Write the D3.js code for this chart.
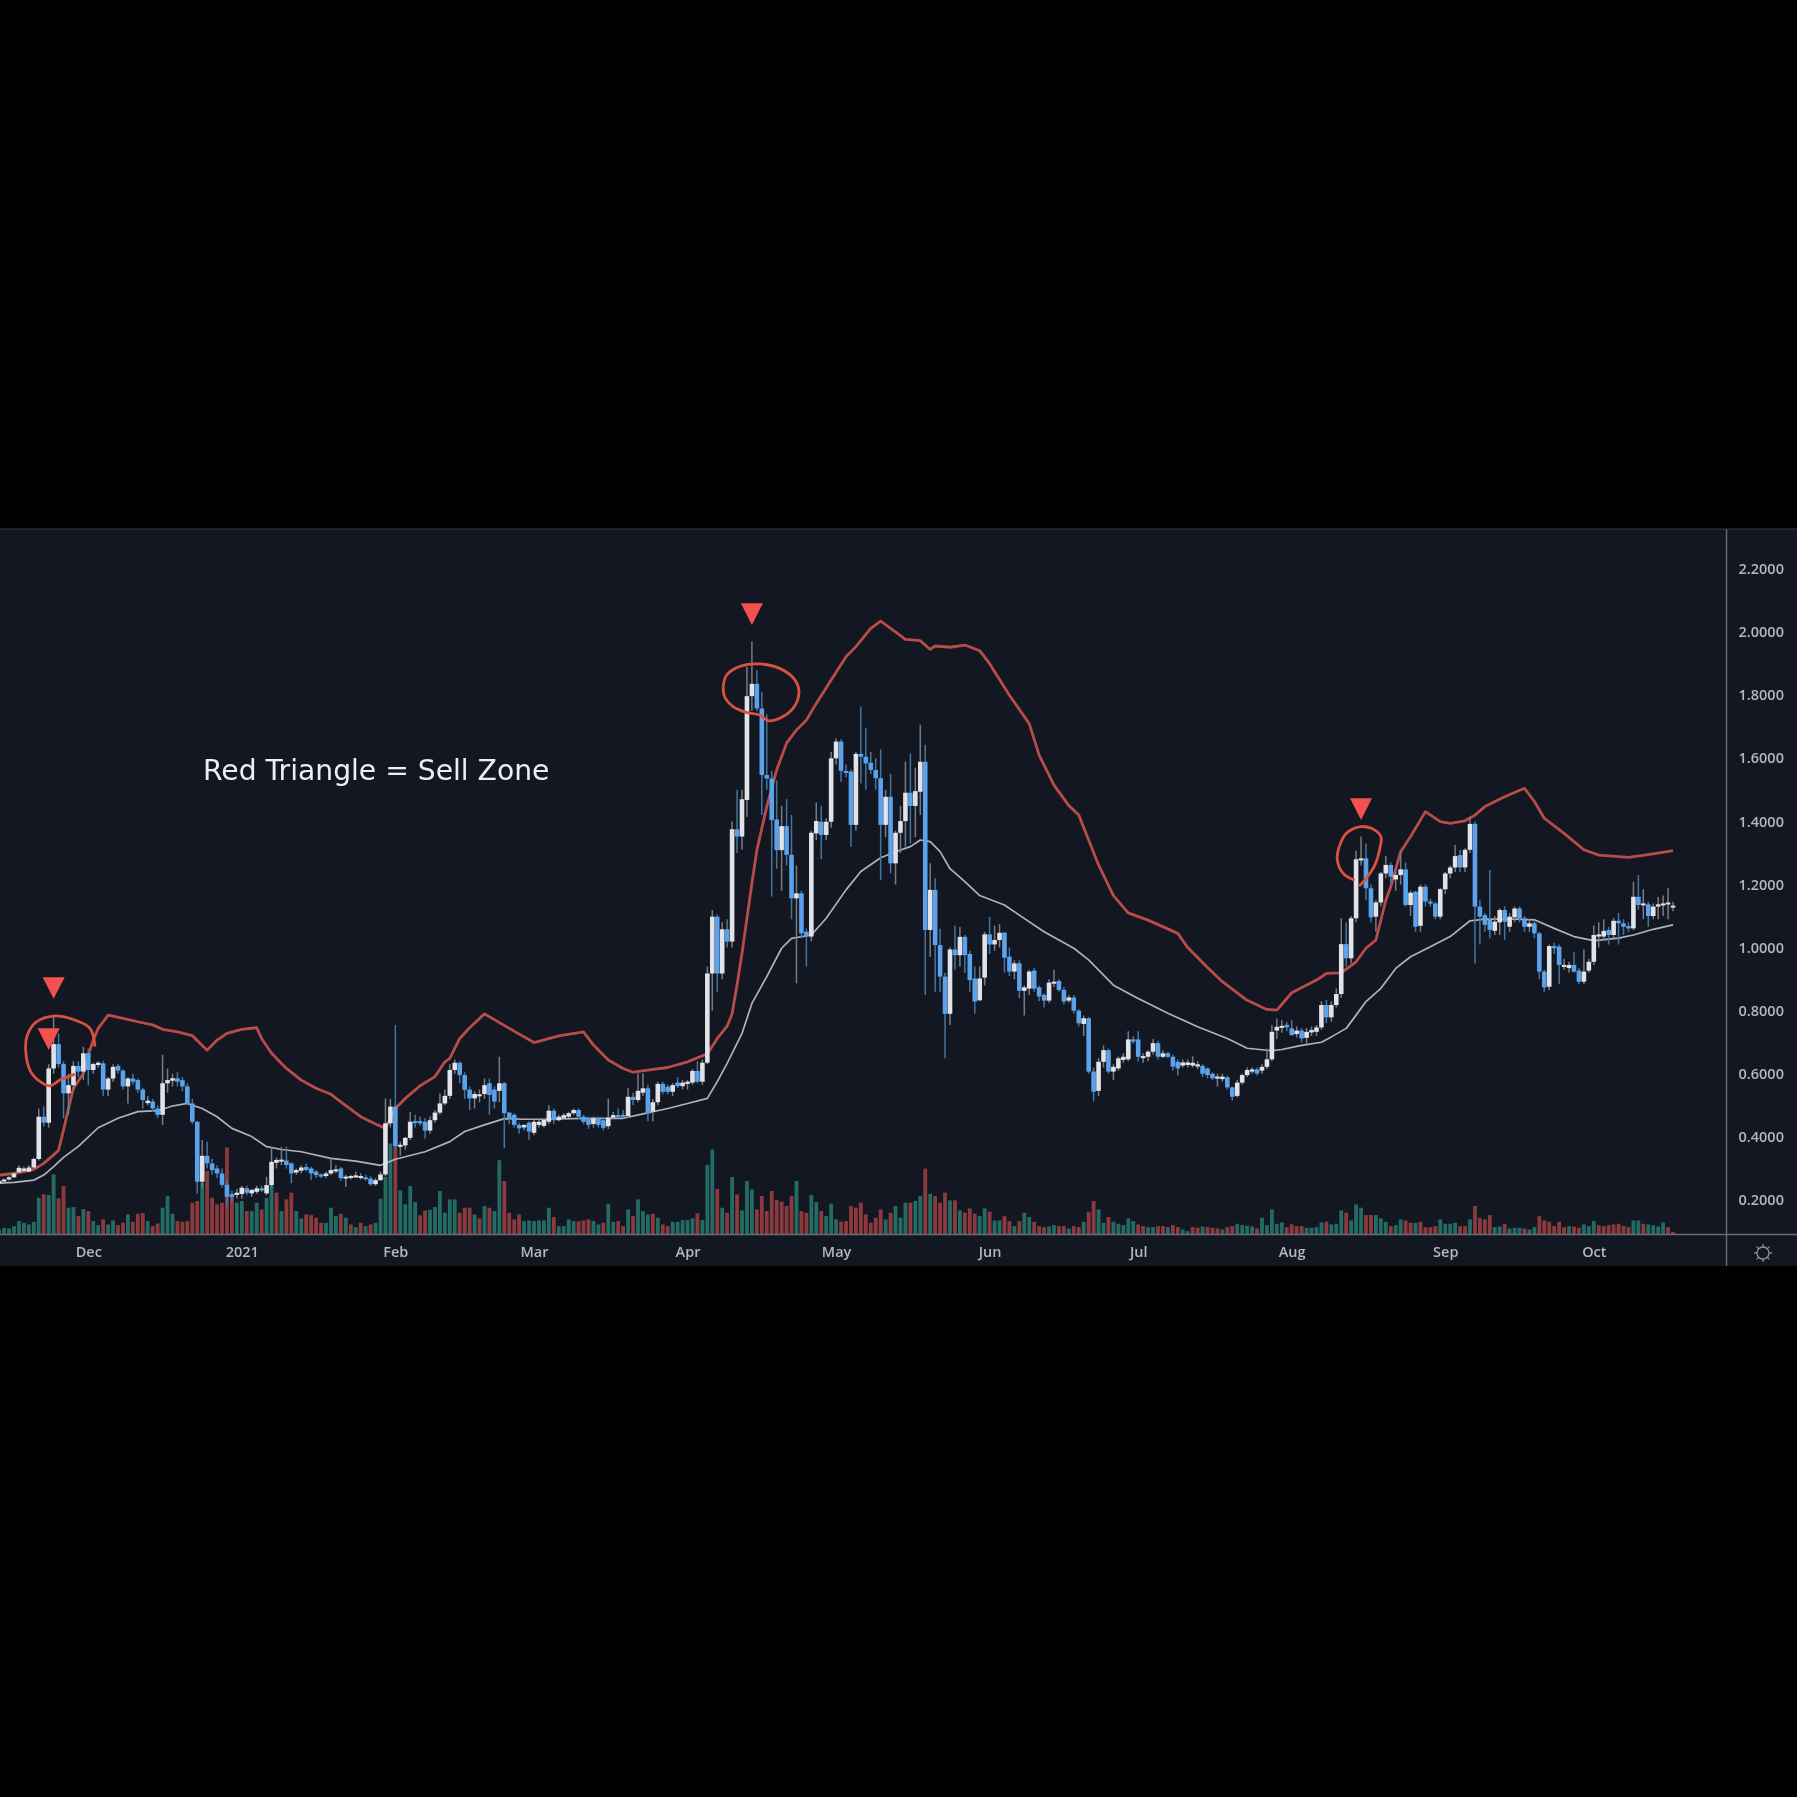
<!DOCTYPE html>
<html>
<head>
<meta charset="utf-8">
<script src="https://cdn.jsdelivr.net/npm/d3@7"></script>
<style>
    html, body { margin: 0; padding: 0; background: #000; }
    svg { display: block; filter: blur(0.5px); }
</style>
</head>
<body>
<svg id="chart" width="1797" height="1797"></svg>
<script>
// one row per day: open, high, low, close, volume (negative = red bar)
var nov20 = [
    [.253,.265,.25,.261,15],[.259,.268,.255,.265,20],[.265,.275,.262,.272,18],[.272,.288,.27,.284,25],
    [.288,.31,.285,.302,40],[.292,.305,.288,.30,35],[.29,.31,.288,.303,30],[.303,.335,.30,.33,38],
    [.33,.49,.325,.464,110],[.464,.496,.432,.445,-120],[.445,.63,.43,.617,118],[.617,.781,.60,.694,180],
    [.694,.728,.62,.631,-108],[.631,.64,.459,.538,-145],[.538,.60,.47,.564,80],[.564,.64,.55,.625,82],
    [.625,.64,.59,.607,-55],[.607,.685,.58,.665,76]
];
var dec20 = [
    [.665,.68,.564,.612,-70],[.612,.635,.60,.631,40],[.628,.64,.62,.635,28],[.633,.64,.53,.55,-45],
    [.55,.59,.53,.585,30],[.585,.63,.575,.622,42],[.625,.632,.60,.61,-28],[.61,.615,.55,.56,-35],
    [.56,.59,.506,.585,60],[.585,.60,.565,.575,-38],[.58,.585,.54,.55,-62],[.55,.555,.49,.517,-64],
    [.507,.53,.50,.515,40],[.512,.52,.48,.49,-25],[.49,.50,.46,.47,-33],[.47,.66,.438,.57,80],
    [.57,.617,.54,.58,115],[.578,.60,.56,.586,62],[.586,.605,.56,.575,-40],[.58,.59,.545,.56,-38],
    [.56,.57,.50,.506,-40],[.506,.52,.44,.448,-95],[.448,.45,.22,.258,-100],[.258,.39,.24,.34,155],
    [.34,.385,.30,.316,-190],[.316,.33,.28,.295,-110],[.30,.31,.27,.284,-90],[.284,.30,.24,.248,-95],
    [.248,.26,.179,.21,-260],[.219,.23,.19,.21,-120],[.216,.235,.205,.223,95]
];
var jan21 = [
    [.219,.245,.205,.239,100],[.237,.245,.215,.223,-70],[.221,.235,.21,.232,70],[.226,.245,.22,.237,95],
    [.237,.245,.225,.23,-75],[.221,.274,.215,.247,110],[.247,.369,.24,.321,145],[.318,.335,.30,.327,-125],
    [.325,.369,.31,.328,70],[.325,.369,.30,.311,-105],[.316,.32,.253,.284,-125],[.287,.30,.28,.295,70],
    [.293,.31,.285,.303,48],[.305,.315,.29,.295,-60],[.30,.305,.263,.284,-58],[.29,.295,.27,.279,-50],
    [.281,.285,.27,.274,-35],[.276,.29,.27,.284,35],[.284,.332,.28,.295,80],[.293,.31,.285,.297,55],
    [.30,.305,.26,.269,-62],[.269,.28,.242,.274,50],[.273,.28,.265,.276,-30],[.274,.29,.27,.278,22],
    [.272,.285,.265,.276,-35],[.272,.28,.262,.268,25],[.268,.275,.245,.25,-30],[.25,.27,.245,.263,35],
    [.263,.29,.26,.281,107],[.281,.522,.275,.443,172],[.443,.52,.43,.496,272]
];
var feb21 = [
    [.496,.755,.36,.371,-267],[.37,.385,.34,.375,132],[.373,.40,.36,.397,90],[.397,.48,.39,.448,145],
    [.45,.47,.43,.445,97],[.45,.465,.435,.443,-57],[.448,.46,.395,.42,-72],[.42,.465,.41,.453,74],
    [.453,.485,.445,.477,82],[.477,.538,.47,.506,130],[.506,.55,.50,.53,65],[.53,.63,.52,.612,105],
    [.612,.645,.60,.635,105],[.635,.64,.57,.596,-65],[.596,.605,.52,.549,-80],[.55,.56,.485,.522,-80],
    [.522,.545,.49,.536,60],[.53,.55,.51,.535,-48],[.536,.585,.52,.564,85],[.57,.585,.47,.533,-80],
    [.55,.56,.49,.512,70],[.546,.654,.51,.57,222],[.57,.575,.364,.475,-160],[.477,.48,.44,.459,-65],
    [.47,.475,.43,.438,-45],[.438,.445,.41,.427,-60],[.43,.44,.42,.438,40],[.445,.45,.39,.417,42]
];
var mar21 = [
    [.413,.455,.405,.448,40],[.438,.455,.43,.448,42],[.435,.46,.43,.454,42],[.448,.50,.44,.483,80],
    [.483,.49,.44,.453,-52],[.453,.47,.45,.464,25],[.459,.475,.455,.469,25],[.464,.48,.46,.475,45],
    [.475,.49,.47,.485,40],[.485,.49,.455,.464,-40],[.464,.47,.44,.448,-42],[.459,.465,.425,.438,-45],
    [.441,.465,.43,.459,40],[.459,.465,.43,.438,30],[.453,.46,.42,.429,-35],[.434,.522,.425,.461,92],
    [.461,.48,.455,.469,38],[.469,.49,.46,.464,-40],[.47,.485,.46,.466,-25],[.466,.554,.46,.527,75],
    [.527,.54,.50,.517,-55],[.517,.601,.51,.546,105],[.54,.601,.53,.554,70],[.554,.565,.45,.475,60],
    [.48,.52,.45,.51,-62],[.51,.575,.50,.568,50],[.568,.575,.535,.543,-30],[.559,.565,.535,.543,-25],
    [.543,.57,.53,.564,38],[.572,.59,.555,.561,38],[.561,.58,.55,.572,43]
];
var apr21 = [
    [.568,.58,.55,.575,43],[.572,.615,.565,.609,48],[.609,.64,.57,.575,-63],[.575,.645,.565,.635,43],
    [.635,.94,.63,.918,208],[.918,1.119,.80,1.098,254],[1.098,1.105,.86,.918,-136],[.918,1.08,.90,1.058,80],
    [1.058,1.09,1.0,1.019,-65],[1.019,1.40,1.0,1.375,172],[1.375,1.50,1.30,1.352,-120],[1.352,1.50,1.31,1.47,72],
    [1.468,1.89,1.415,1.797,160],[1.797,1.97,1.75,1.836,135],[1.836,1.88,1.75,1.758,-75],[1.758,1.81,1.42,1.547,-115],
    [1.547,1.74,1.50,1.536,-70],[1.536,1.56,1.162,1.404,-130],[1.406,1.53,1.25,1.309,-103],[1.309,1.45,1.18,1.385,-98],
    [1.385,1.47,1.26,1.294,-85],[1.294,1.42,1.09,1.156,-115],[1.156,1.26,.887,1.172,160],[1.172,1.18,1.03,1.045,-70],
    [1.05,1.06,.94,1.035,-65],[1.035,1.37,1.02,1.364,118],[1.362,1.46,1.34,1.401,97],[1.399,1.45,1.28,1.357,-70],
    [1.357,1.41,1.34,1.399,55],[1.399,1.62,1.38,1.60,92]
];
var may21 = [
    [1.60,1.663,1.58,1.653,45],[1.653,1.66,1.525,1.56,-38],[1.56,1.58,1.54,1.554,-40],[1.558,1.565,1.32,1.389,-85],
    [1.389,1.62,1.37,1.614,-80],[1.614,1.764,1.52,1.605,-95],[1.605,1.695,1.50,1.584,-60],[1.586,1.62,1.55,1.563,-35],
    [1.563,1.60,1.50,1.537,-50],[1.537,1.628,1.214,1.389,-75],[1.389,1.50,1.35,1.478,45],[1.478,1.55,1.235,1.267,-65],
    [1.267,1.37,1.20,1.364,85],[1.364,1.45,1.30,1.401,50],[1.401,1.59,1.32,1.491,95],[1.491,1.615,1.33,1.449,-95],
    [1.449,1.57,1.35,1.496,100],[1.494,1.706,1.42,1.589,115],[1.589,1.643,.85,1.056,-197],[1.056,1.267,.97,1.183,122],
    [1.183,1.22,.86,1.008,-115],[1.008,1.06,.86,.908,-95],[.908,.92,.649,.79,-125],[.79,1.0,.755,.994,102],
    [.994,1.07,.93,.976,-102],[.976,1.065,.94,1.034,72],[1.034,1.04,.92,.976,-65],[.98,.99,.86,.897,-78],
    [.902,.94,.79,.829,-62],[.833,.94,.83,.902,55],[.905,1.05,.88,1.042,78]
];
var jun21 = [
    [1.042,1.098,.98,1.01,-68],[1.01,1.07,.99,1.024,42],[1.024,1.075,1.0,1.047,42],[1.047,1.05,.92,.968,-55],
    [.971,1.0,.91,.924,-40],[.924,.96,.90,.95,25],[.95,.96,.84,.863,-40],[.863,.88,.785,.874,65],
    [.87,.93,.85,.924,52],[.927,.935,.86,.87,-38],[.874,.88,.83,.845,-25],[.85,.855,.81,.832,-22],
    [.832,.90,.825,.889,24],[.889,.93,.875,.892,28],[.894,.90,.86,.866,-25],[.866,.875,.82,.829,-25],
    [.832,.85,.825,.842,18],[.842,.85,.79,.80,-25],[.80,.805,.75,.76,-22],[.758,.785,.72,.776,38],
    [.776,.78,.60,.607,-68],[.607,.62,.512,.543,-100],[.546,.65,.53,.638,75],[.638,.69,.62,.675,35],
    [.675,.68,.60,.607,-52],[.607,.63,.58,.622,38],[.617,.655,.61,.649,32],[.644,.665,.635,.654,28],
    [.646,.735,.64,.709,48],[.709,.72,.695,.702,40]
];
var jul21 = [
    [.709,.735,.64,.654,-30],[.652,.665,.635,.656,-25],[.654,.675,.64,.67,22],[.67,.71,.66,.697,22],
    [.697,.705,.645,.654,-25],[.654,.675,.65,.665,-25],[.665,.67,.65,.654,22],[.654,.66,.61,.623,-28],
    [.638,.645,.595,.617,-22],[.626,.645,.62,.636,15],[.628,.645,.62,.636,10],[.626,.656,.62,.635,-22],
    [.623,.64,.615,.63,-20],[.625,.63,.59,.60,24],[.617,.62,.585,.596,-22],[.60,.605,.58,.586,-20],
    [.586,.60,.56,.591,-18],[.583,.60,.575,.591,15],[.589,.595,.55,.557,-22],[.557,.56,.515,.527,-25],
    [.53,.58,.525,.572,32],[.572,.60,.565,.596,28],[.596,.62,.59,.612,26],[.607,.62,.60,.614,24],
    [.614,.62,.595,.601,-18],[.61,.63,.60,.622,50],[.622,.68,.615,.646,28],[.646,.755,.64,.733,75],
    [.737,.775,.71,.749,32],[.746,.77,.73,.752,36],[.755,.765,.735,.747,-22]
];
var aug21 = [
    [.744,.77,.72,.723,-30],[.726,.75,.715,.737,-25],[.737,.745,.70,.712,-25],[.714,.745,.695,.733,20],
    [.731,.75,.72,.739,20],[.733,.755,.72,.747,22],[.747,.83,.74,.818,36],[.818,.835,.76,.779,-38],
    [.779,.83,.765,.818,30],[.818,.87,.81,.853,32],[.853,1.093,.84,1.011,72],[1.011,1.08,.94,.966,-65],
    [.966,1.10,.95,1.093,42],[1.093,1.307,1.08,1.28,90],[1.276,1.352,1.26,1.283,80],[1.283,1.33,1.15,1.188,-58],
    [1.188,1.20,1.08,1.096,-58],[1.098,1.15,1.05,1.143,58],[1.143,1.24,1.13,1.235,48],[1.235,1.29,1.22,1.262,38],
    [1.262,1.27,1.20,1.225,-25],[1.216,1.24,1.18,1.23,28],[1.23,1.305,1.20,1.248,45],[1.248,1.27,1.13,1.135,-42],
    [1.135,1.18,1.10,1.174,-35],[1.177,1.18,1.05,1.066,35],[1.069,1.20,1.05,1.193,-38],[1.193,1.20,1.13,1.146,-22],
    [1.146,1.155,1.13,1.14,-22],[1.14,1.145,1.09,1.098,-25],[1.098,1.19,1.09,1.185,45]
];
var sep21 = [
    [1.185,1.24,1.17,1.235,32],[1.235,1.26,1.22,1.254,32],[1.254,1.325,1.24,1.29,35],[1.293,1.31,1.24,1.254,-25],
    [1.254,1.315,1.24,1.31,-25],[1.31,1.415,1.30,1.392,45],[1.392,1.40,.95,1.13,-85],[1.13,1.15,1.01,1.098,-50],
    [1.103,1.11,1.05,1.072,-45],[1.088,1.246,1.03,1.056,-58],[1.053,1.10,1.04,1.082,22],[1.08,1.125,1.04,1.119,24],
    [1.119,1.13,1.025,1.082,-32],[1.066,1.11,1.05,1.098,18],[1.096,1.13,1.08,1.124,20],[1.124,1.13,1.08,1.093,20],
    [1.093,1.10,1.05,1.066,-18],[1.066,1.09,1.05,1.077,15],[1.077,1.085,1.03,1.045,22],[1.045,1.05,.90,.924,-55],
    [.924,.93,.86,.874,-42],[.876,1.01,.865,1.005,-38],[1.005,1.015,.98,.998,-25],[1.003,1.01,.885,.945,-38],
    [.94,.965,.93,.945,-22],[.935,.955,.92,.945,25],[.945,.985,.92,.924,-24],[.927,.935,.885,.892,-20],
    [.892,.995,.885,.924,30],[.927,.965,.92,.955,25]
];
var oct21 = [
    [.955,1.07,.945,1.04,40],[1.035,1.08,1.0,1.042,-28],[1.035,1.09,1.02,1.053,-25],[1.056,1.065,1.01,1.04,-28],
    [1.04,1.095,1.03,1.085,-30],[1.085,1.11,1.01,1.077,-32],[1.077,1.09,1.04,1.066,-26],[1.068,1.08,1.05,1.061,-22],
    [1.061,1.209,1.055,1.161,42],[1.161,1.23,1.12,1.135,42],[1.135,1.185,1.09,1.14,-32],[1.137,1.145,1.065,1.10,30],
    [1.10,1.14,1.09,1.13,28],[1.13,1.16,1.09,1.137,24],[1.135,1.165,1.10,1.14,36],[1.137,1.19,1.09,1.143,-22],
    [1.128,1.145,1.115,1.133,-8]
];

// sparse readings of the two bands: day number, price
var upperDays = [0,3,5,7,9,11,12,13,14,15,17,18,19,20,22,25,28,31,33,36,39,42,44,46,49,52,53,55,58,61,64,67,70,73,76,78,80,82,85,88,90,91,93,95,98,103,108,113,118,120,123,126,128,131,135,139,143,145,147,148,149,150,151,152,153,154,155,157,159,161,163,165,168,171,173,176,178,181,183,186,188,189,192,195,198,200,204,208,210,213,216,218,222,225,228,232,238,240,244,247,252,256,258,261,266,268,271,274,276,278,280,281,283,285,288,291,293,296,298,300,304,308,310,312,316,320,323,329,334,338];
var upperValues = [.279,.284,.29,.297,.316,.343,.358,.422,.49,.554,.601,.659,.707,.744,.786,.776,.765,.755,.741,.733,.721,.675,.707,.728,.741,.746,.712,.665,.617,.58,.554,.535,.499,.464,.441,.427,.49,.522,.562,.591,.638,.649,.712,.746,.79,.744,.699,.72,.733,.691,.644,.617,.605,.612,.62,.638,.663,.712,.751,.79,.882,.982,1.093,1.204,1.309,1.378,1.447,1.563,1.648,1.69,1.721,1.774,1.848,1.922,1.954,2.012,2.035,2.001,1.977,1.973,1.945,1.956,1.952,1.959,1.941,1.90,1.80,1.71,1.61,1.515,1.45,1.42,1.262,1.165,1.11,1.087,1.045,1.0,.937,.892,.833,.804,.802,.857,.897,.918,.92,.955,.998,1.024,1.15,1.193,1.304,1.352,1.431,1.399,1.394,1.402,1.42,1.447,1.478,1.505,1.463,1.41,1.362,1.31,1.293,1.286,1.297,1.307];
var lowerDays = [0,3,7,9,11,13,16,20,24,28,32,35,38,41,44,47,51,54,57,61,67,72,77,80,82,86,91,94,98,102,106,111,118,126,130,135,139,143,145,147,150,152,155,158,160,164,167,171,174,178,181,184,186,188,190,192,195,198,203,206,211,217,220,225,230,236,242,248,252,257,259,263,267,269,272,274,276,279,282,285,289,293,297,300,306,310,314,318,322,327,330,334,338];
var lowerValues = [.253,.256,.263,.279,.306,.335,.37,.429,.459,.48,.483,.498,.506,.49,.464,.427,.401,.369,.36,.353,.332,.323,.31,.329,.337,.353,.385,.417,.438,.458,.456,.456,.459,.459,.473,.49,.506,.522,.575,.633,.728,.823,.908,.998,1.029,1.04,1.093,1.183,1.241,1.285,1.304,1.32,1.341,1.336,1.304,1.25,1.209,1.165,1.135,1.103,1.05,.998,.961,.881,.839,.792,.749,.712,.681,.673,.677,.69,.70,.717,.744,.786,.829,.871,.934,.971,1.003,1.035,1.085,1.09,1.09,1.088,1.061,1.035,1.022,1.03,1.04,1.058,1.072];

// sell signals: day number, price at the marker centre
var signalDays = [11,10,152,275];
var signalValues = [.872,.71,2.057,1.439];

// hand drawn rings round the tops: day number, price
var ring1Days = [19.35,18.34,14.6,10.9,7.57,5.69,5.35,6.36,8.58,10.26,12.28,15.3];
var ring1Values = [.686,.744,.774,.783,.765,.723,.675,.607,.572,.562,.58,.599];
var ring2Days = [146.2,146.9,149.9,153.6,157.6,160.7,161.5,160.3,157.6,155.3,153.6,151,148.2,146.5,146.2];
var ring2Values = [1.827,1.864,1.893,1.899,1.885,1.848,1.806,1.758,1.727,1.719,1.737,1.745,1.764,1.795,1.827];
var ring3Days = [274.6,276.1,277.8,278.8,279,277.1,274.7,272,270.6,270.2,271.4,273.7];
var ring3Values = [1.195,1.22,1.262,1.315,1.352,1.378,1.383,1.362,1.32,1.278,1.235,1.214];

var monthDates = ["2020-12-01","2021-01-01","2021-02-01","2021-03-01","2021-04-01","2021-05-01","2021-06-01","2021-07-01","2021-08-01","2021-09-01","2021-10-01"];
var monthLabels = ["Dec","2021","Feb","Mar","Apr","May","Jun","Jul","Aug","Sep","Oct"];
var priceTicks = [0.2,0.4,0.6,0.8,1.0,1.2,1.4,1.6,1.8,2.0,2.2];
var firstDay = Date.UTC(2020,10,13);
var note = "Red Triangle = Sell Zone";

var rows = [].concat(nov20,dec20,jan21,feb21,mar21,apr21,may21,jun21,jul21,aug21,sep21,oct21);

var panel = { top: 529, bottom: 1266, axisY: 1234.5, axisX: 1726.5 };

var svg = d3.select("#chart");

var x = d3.scaleUtc()
    .domain([new Date(monthDates[0]), new Date(monthDates[10])])
    .range([88.3, 1593.8]);
var y = d3.scaleLinear().domain([0.2, 2.2]).range([1200, 569]);
var vol = d3.scaleLinear().domain([0, 254]).range([panel.axisY, panel.axisY - 85]);

function dayX(d) {
    return x(new Date(firstDay + d * 864e5));
}

svg.append("rect")
    .attr("y", panel.top)
    .attr("width", 1797)
    .attr("height", panel.bottom - panel.top)
    .attr("fill", "#131722");

var plot = svg.append("g");
svg.append("clipPath").attr("id", "plotClip").append("rect")
    .attr("y", panel.top).attr("width", panel.axisX).attr("height", panel.axisY - panel.top);
plot.attr("clip-path", "url(#plotClip)");

// volume bars
plot.append("g")
    .selectAll("rect")
    .data(rows)
    .enter()
    .append("rect")
    .attr("x", function (d, i) { return dayX(i) - 1.9; })
    .attr("width", 3.8)
    .attr("y", function (d) { return vol(Math.abs(d[4])); })
    .attr("height", function (d) { return vol(0) - vol(Math.abs(d[4])); })
    .attr("fill", function (d) { return d[4] < 0 ? "#8b3b3e" : "#236c63"; });

function bandPath(days, values, color, width) {
    var line = d3.line()
        .x(function (d) { return dayX(d); })
        .y(function (d, i) { return y(values[i]); });
    plot.append("path")
        .attr("d", line(days))
        .attr("fill", "none")
        .attr("stroke", color)
        .attr("stroke-width", width)
        .attr("stroke-linejoin", "round");
}

bandPath(lowerDays, lowerValues, "#b0b2b8", 1.7);
bandPath(upperDays, upperValues, "#b84c49", 2.8);

// candles
var candle = plot.append("g")
    .selectAll("g")
    .data(rows)
    .enter()
    .append("g");

candle.append("line")
    .attr("x1", function (d, i) { return dayX(i); })
    .attr("x2", function (d, i) { return dayX(i); })
    .attr("y1", function (d) { return y(d[1]); })
    .attr("y2", function (d) { return y(d[2]); })
    .attr("stroke", function (d) { return d[3] >= d[0] ? "#787b84" : "#43769f"; })
    .attr("stroke-width", 1.5);

candle.append("rect")
    .attr("x", function (d, i) { return dayX(i) - 2.3; })
    .attr("width", 4.6)
    .attr("y", function (d) { return y(Math.max(d[0], d[3])); })
    .attr("height", function (d) { return Math.max(2, Math.abs(y(d[0]) - y(d[3]))); })
    .attr("fill", function (d) { return d[3] >= d[0] ? "#e1e3e9" : "#5aa2ea"; });

// rings and markers
function ring(days, values) {
    var line = d3.line()
        .x(function (d) { return dayX(d); })
        .y(function (d, i) { return y(values[i]); })
        .curve(d3.curveCatmullRom);
    svg.append("path")
        .attr("d", line(days))
        .attr("fill", "none")
        .attr("stroke", "#d9513f")
        .attr("stroke-width", 2.8);
}
ring(ring1Days, ring1Values);
ring(ring2Days, ring2Values);
ring(ring3Days, ring3Values);

svg.append("g")
    .selectAll("path")
    .data(signalDays)
    .enter()
    .append("path")
    .attr("d", "M-11,-10.8L11,-10.8L0,10.8Z")
    .attr("transform", function (d, i) {
        return "translate(" + dayX(d) + "," + y(signalValues[i]) + ")";
    })
    .attr("fill", "#f4504f");

svg.append("text")
    .attr("x", 203)
    .attr("y", 780)
    .attr("font-family", "DejaVu Sans")
    .attr("font-size", 28.2)
    .attr("fill", "#eceef2")
    .text(note);

// axes
var xAxis = d3.axisBottom(x)
    .tickValues(monthDates.map(function (d) { return new Date(d); }))
    .tickFormat(function (d, i) { return monthLabels[i]; })
    .tickSize(0)
    .tickPadding(12);
var yAxis = d3.axisRight(y)
    .tickValues(priceTicks)
    .tickFormat(d3.format(".4f"))
    .tickSize(0)
    .tickPadding(12);

var gx = svg.append("g").attr("transform", "translate(0," + panel.axisY + ")").call(xAxis);
var gy = svg.append("g").attr("transform", "translate(" + panel.axisX + ",0)").call(yAxis);

gx.select(".domain").remove();
gy.select(".domain").remove();
svg.selectAll(".tick text")
    .attr("font-family", "Open Sans")
    .attr("font-size", 14.5)
    .attr("font-weight", 600)
    .attr("fill", "#b4b7bf");

svg.append("line")
    .attr("x1", 0).attr("x2", 1797)
    .attr("y1", panel.axisY).attr("y2", panel.axisY)
    .attr("stroke", "#6a6d75").attr("stroke-width", 1.4);
svg.append("line")
    .attr("x1", panel.axisX).attr("x2", panel.axisX)
    .attr("y1", panel.top).attr("y2", panel.bottom)
    .attr("stroke", "#6a6d75").attr("stroke-width", 1.4);
svg.append("line")
    .attr("x1", 0).attr("x2", 1797)
    .attr("y1", panel.top).attr("y2", panel.top)
    .attr("stroke", "#3a3d47").attr("stroke-width", 1.2);

// settings icon
var gear = svg.append("g")
    .attr("transform", "translate(1763,1253)")
    .attr("stroke", "#8e9199")
    .attr("stroke-width", 1.3)
    .attr("fill", "none");
gear.append("circle").attr("r", 6);
gear.selectAll("line")
    .data(d3.range(8))
    .enter()
    .append("line")
    .attr("y1", 6)
    .attr("y2", 9)
    .attr("transform", function (d) { return "rotate(" + d * 45 + ")"; });
</script>
</body>
</html>
